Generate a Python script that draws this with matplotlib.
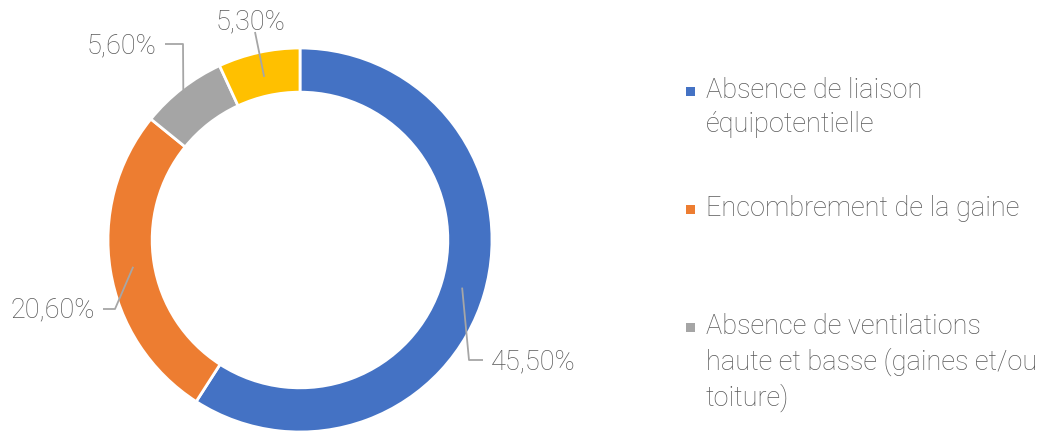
import numpy as np
import matplotlib
matplotlib.use("Agg")
import matplotlib.pyplot as plt
from matplotlib.patches import Rectangle

categories = ["Absence de liaison\néquipotentielle",
              "Encombrement de la gaine",
              "Absence de ventilations\nhaute et basse (gaines et/ou\ntoiture)",
              "Autre"]
values = [45.5, 20.6, 5.6, 5.3]
value_labels = ["45,50%", "20,60%", "5,60%", "5,30%"]
colors = ["#4472C4", "#ED7D31", "#A5A5A5", "#FFC000"]
legend_shown = 3  # the reference legend shows only the first three entries

TXT = "#595959"
LINE = "#A6A6A6"
FONT = ["Roboto", "DejaVu Sans"]
FS = 19.5

W, H = 1043, 432
fig = plt.figure(figsize=(W / 100, H / 100), dpi=100)
ax = fig.add_axes([0, 0, 1, 1])
R = 192.0
cx, cy = 300.0, 240.0

wedges, _ = ax.pie(values, colors=colors, startangle=90, counterclock=False,
                   radius=1.0, wedgeprops=dict(width=0.23, edgecolor="white", linewidth=2.0))
ax.set_xlim(-cx / R, (W - cx) / R)
ax.set_ylim(-(H - cy) / R, cy / R)
ax.set_aspect("auto")
ax.axis("off")

def d(px, py):
    return ((px - cx) / R, (cy - py) / R)

# label layout: (anchor radius, path points in px, text pos px, ha)
layout = [
    (0.88, [(469, 360), (483, 360)], (491, 362), "left"),
    (0.88, [(115, 309), (103, 309)], (95, 310), "right"),
    (0.99, [(183, 44), (165, 44)], (156, 46), "right"),
    (0.87, [(255, 32)], (250, 22), "center"),
]
for w, lab, (ra, pts, tp, ha) in zip(wedges, value_labels, layout):
    th = np.deg2rad((w.theta1 + w.theta2) / 2)
    xs = [ra * np.cos(th)] + [d(*p)[0] for p in pts]
    ys = [ra * np.sin(th)] + [d(*p)[1] for p in pts]
    ax.plot(xs, ys, color=LINE, lw=1.3, solid_capstyle="butt")
    tx, ty = d(*tp)
    ax.text(tx, ty, lab, ha=ha, va="center", color=TXT, fontsize=FS,
            family=FONT, fontweight="light")

# legend (Excel-style, entries at equal spacing)
for i, (cat, col) in enumerate(zip(categories[:legend_shown], colors)):
    py = 91 + 118 * i
    x0, y0 = d(686, py + 4.5)
    ax.add_patch(Rectangle((x0, y0), 9 / R, 9 / R, facecolor=col, edgecolor="none"))
    tx, ty = d(706, py - 13.5)
    ax.text(tx, ty, cat, ha="left", va="top", color=TXT, fontsize=FS,
            family=FONT, fontweight="light", linespacing=1.33)

fig.savefig("out.png", dpi=100)
